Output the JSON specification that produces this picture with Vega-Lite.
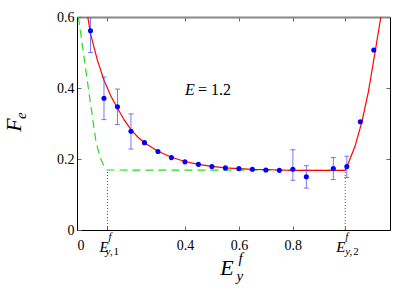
{
  "$schema": "https://vega.github.io/schema/vega-lite/v6.json",
  "width": 313,
  "height": 213,
  "autosize": "none",
  "padding": {"left": 77, "top": 17, "right": 25, "bottom": 61},
  "config": {
    "view": {"stroke": null},
    "font": "Liberation Serif",
    "axis": {"grid": false, "labelFont": "Liberation Serif", "labelFontSize": 14, "labelColor": "#000", "tickColor": "#666", "tickSize": -4, "domainColor": "#000", "title": null}
  },
  "datasets": {
    "pts": [
      {"x": 0.05, "y": 0.561}, {"x": 0.1, "y": 0.371}, {"x": 0.15, "y": 0.347}, {"x": 0.2, "y": 0.278},
      {"x": 0.25, "y": 0.246}, {"x": 0.3, "y": 0.221}, {"x": 0.35, "y": 0.204}, {"x": 0.4, "y": 0.192},
      {"x": 0.45, "y": 0.185}, {"x": 0.5, "y": 0.179}, {"x": 0.55, "y": 0.175}, {"x": 0.6, "y": 0.173},
      {"x": 0.65, "y": 0.171}, {"x": 0.7, "y": 0.169}, {"x": 0.75, "y": 0.168}, {"x": 0.8, "y": 0.171},
      {"x": 0.85, "y": 0.15}, {"x": 0.95, "y": 0.173}, {"x": 1.0, "y": 0.179}, {"x": 1.05, "y": 0.305},
      {"x": 1.1, "y": 0.507}
    ],
    "err": [
      {"x": 0.05, "lo": 0.5, "hi": 0.62}, {"x": 0.1, "lo": 0.311, "hi": 0.431},
      {"x": 0.15, "lo": 0.297, "hi": 0.397}, {"x": 0.2, "lo": 0.228, "hi": 0.327},
      {"x": 0.8, "lo": 0.14, "hi": 0.226}, {"x": 0.85, "lo": 0.118, "hi": 0.181},
      {"x": 0.95, "lo": 0.142, "hi": 0.204}, {"x": 1.0, "lo": 0.148, "hi": 0.208}
    ],
    "fit": [
      {"x": 0.04, "y": 0.6}, {"x": 0.05, "y": 0.553}, {"x": 0.075, "y": 0.48}, {"x": 0.1, "y": 0.422},
      {"x": 0.125, "y": 0.378}, {"x": 0.15, "y": 0.343}, {"x": 0.175, "y": 0.31}, {"x": 0.2, "y": 0.283},
      {"x": 0.225, "y": 0.262}, {"x": 0.25, "y": 0.246}, {"x": 0.3, "y": 0.222}, {"x": 0.35, "y": 0.205},
      {"x": 0.4, "y": 0.193}, {"x": 0.45, "y": 0.185}, {"x": 0.5, "y": 0.179}, {"x": 0.55, "y": 0.175},
      {"x": 0.6, "y": 0.173}, {"x": 0.65, "y": 0.171}, {"x": 0.7, "y": 0.17}, {"x": 0.75, "y": 0.169},
      {"x": 0.8, "y": 0.168}, {"x": 0.9, "y": 0.168}, {"x": 0.994, "y": 0.168}, {"x": 1.004, "y": 0.185},
      {"x": 1.03, "y": 0.235}, {"x": 1.056, "y": 0.305}, {"x": 1.08, "y": 0.39}, {"x": 1.106, "y": 0.507},
      {"x": 1.126, "y": 0.6}
    ],
    "bound": [
      {"x": 0.005, "y": 0.6}, {"x": 0.02, "y": 0.52}, {"x": 0.042, "y": 0.4}, {"x": 0.07, "y": 0.25},
      {"x": 0.085, "y": 0.206}, {"x": 0.1, "y": 0.18}, {"x": 0.112, "y": 0.169}, {"x": 0.994, "y": 0.168}
    ],
    "marks": [
      {"x": 0.113, "y": 0, "y2": 0.169}, {"x": 0.994, "y": 0, "y2": 0.168}
    ]
  },
  "layer": [
    {
      "data": {"name": "marks"},
      "mark": {"type": "rule", "color": "#555", "strokeDash": [1, 2], "strokeWidth": 1},
      "encoding": {
        "x": {"field": "x", "type": "quantitative", "scale": {"domain": [0, 1.16], "nice": false, "zero": false},
              "axis": {"orient": "bottom", "values": [0, 0.113, 0.4, 0.6, 0.8, 0.994], "labelPadding": 12,
                       "labelExpr": "(datum.value > 0.1 && datum.value < 0.12) || datum.value > 0.99 ? '' : (datum.value == 0 ? '0' : format(datum.value, '.1f'))"}},
        "y": {"field": "y", "type": "quantitative", "scale": {"domain": [0, 0.6], "nice": false, "zero": false},
              "axis": {"orient": "left", "values": [0, 0.2, 0.4, 0.6], "labelPadding": 7,
                       "labelExpr": "datum.value == 0 ? '0' : format(datum.value, '.1f')"}},
        "y2": {"field": "y2"}
      }
    },
    {
      "data": {"name": "marks"},
      "mark": {"type": "rule", "opacity": 0},
      "encoding": {
        "x": {"field": "x", "type": "quantitative", "scale": {"domain": [0, 1.16], "nice": false, "zero": false},
              "axis": {"orient": "top", "values": [0.113, 0.4, 0.6, 0.8, 0.994], "labels": false, "domainColor": "#888", "domainWidth": 2}},
        "y": {"field": "y", "type": "quantitative", "scale": {"domain": [0, 0.6], "nice": false, "zero": false},
              "axis": {"orient": "right", "values": [0.2, 0.4], "labels": false}}
      }
    },
    {
      "data": {"name": "bound"},
      "mark": {"type": "line", "color": "#22dd22", "strokeDash": [8, 5], "strokeWidth": 1.2, "clip": true},
      "encoding": {
        "x": {"field": "x", "type": "quantitative", "scale": {"domain": [0, 1.16], "nice": false, "zero": false}, "axis": null},
        "y": {"field": "y", "type": "quantitative", "scale": {"domain": [0, 0.6], "nice": false, "zero": false}, "axis": null}
      }
    },
    {
      "data": {"name": "fit"},
      "mark": {"type": "line", "color": "#ff0000", "strokeWidth": 1.2, "clip": true},
      "encoding": {
        "x": {"field": "x", "type": "quantitative", "scale": {"domain": [0, 1.16], "nice": false, "zero": false}, "axis": null},
        "y": {"field": "y", "type": "quantitative", "scale": {"domain": [0, 0.6], "nice": false, "zero": false}, "axis": null}
      }
    },
    {
      "data": {"name": "err"},
      "mark": {"type": "errorbar", "ticks": {"size": 5}, "color": "#4a4aff", "opacity": 0.75, "clip": true},
      "encoding": {
        "x": {"field": "x", "type": "quantitative", "scale": {"domain": [0, 1.16], "nice": false, "zero": false}, "axis": null},
        "y": {"field": "lo", "type": "quantitative", "scale": {"domain": [0, 0.6], "nice": false, "zero": false}, "axis": null},
        "y2": {"field": "hi"}
      }
    },
    {
      "data": {"name": "pts"},
      "mark": {"type": "circle", "color": "#0000ff", "opacity": 1, "size": 26},
      "encoding": {
        "x": {"field": "x", "type": "quantitative", "scale": {"domain": [0, 1.16], "nice": false, "zero": false}, "axis": null},
        "y": {"field": "y", "type": "quantitative", "scale": {"domain": [0, 0.6], "nice": false, "zero": false}, "axis": null}
      }
    },
    {
      "data": {"values": [{"x": 0.4, "y": 0.395, "t": "E"}]},
      "mark": {"type": "text", "font": "Liberation Serif", "fontStyle": "italic", "fontSize": 16, "align": "left", "baseline": "middle"},
      "encoding": {
        "x": {"field": "x", "type": "quantitative", "scale": {"domain": [0, 1.16], "nice": false, "zero": false}, "axis": null},
        "y": {"field": "y", "type": "quantitative", "scale": {"domain": [0, 0.6], "nice": false, "zero": false}, "axis": null},
        "text": {"field": "t"}
      }
    },
    {
      "data": {"values": [{"x": 0.4, "y": 0.395, "t": "= 1.2"}]},
      "mark": {"type": "text", "font": "Liberation Serif", "fontSize": 16, "align": "left", "baseline": "middle", "dx": 13},
      "encoding": {
        "x": {"field": "x", "type": "quantitative", "scale": {"domain": [0, 1.16], "nice": false, "zero": false}, "axis": null},
        "y": {"field": "y", "type": "quantitative", "scale": {"domain": [0, 0.6], "nice": false, "zero": false}, "axis": null},
        "text": {"field": "t"}
      }
    },
    {
      "data": {"values": [{"x": 0.1, "y": 0, "t": "E"}, {"x": 0.978, "y": 0, "t": "E"}]},
      "mark": {"type": "text", "font": "Liberation Serif", "fontStyle": "italic", "fontSize": 15, "align": "center", "baseline": "middle", "dy": 17},
      "encoding": {
        "x": {"field": "x", "type": "quantitative", "scale": {"domain": [0, 1.16], "nice": false, "zero": false}, "axis": null},
        "y": {"field": "y", "type": "quantitative", "scale": {"domain": [0, 0.6], "nice": false, "zero": false}, "axis": null},
        "text": {"field": "t"}
      }
    },
    {
      "data": {"values": [{"x": 0.122, "y": 0, "t": "f"}, {"x": 1.0, "y": 0, "t": "f"}]},
      "mark": {"type": "text", "font": "Liberation Serif", "fontStyle": "italic", "fontSize": 11, "align": "center", "baseline": "middle", "dy": 7},
      "encoding": {
        "x": {"field": "x", "type": "quantitative", "scale": {"domain": [0, 1.16], "nice": false, "zero": false}, "axis": null},
        "y": {"field": "y", "type": "quantitative", "scale": {"domain": [0, 0.6], "nice": false, "zero": false}, "axis": null},
        "text": {"field": "t"}
      }
    },
    {
      "data": {"values": [{"x": 0.106, "y": 0, "t": "y,"}, {"x": 0.994, "y": 0, "t": "y,"}]},
      "mark": {"type": "text", "font": "Liberation Serif", "fontStyle": "italic", "fontSize": 11, "align": "left", "baseline": "middle", "dy": 22},
      "encoding": {
        "x": {"field": "x", "type": "quantitative", "scale": {"domain": [0, 1.16], "nice": false, "zero": false}, "axis": null},
        "y": {"field": "y", "type": "quantitative", "scale": {"domain": [0, 0.6], "nice": false, "zero": false}, "axis": null},
        "text": {"field": "t"}
      }
    },
    {
      "data": {"values": [{"x": 0.106, "y": 0, "t": "1"}, {"x": 0.994, "y": 0, "t": "2"}]},
      "mark": {"type": "text", "font": "Liberation Serif", "fontSize": 11, "align": "left", "baseline": "middle", "dy": 22, "dx": 8},
      "encoding": {
        "x": {"field": "x", "type": "quantitative", "scale": {"domain": [0, 1.16], "nice": false, "zero": false}, "axis": null},
        "y": {"field": "y", "type": "quantitative", "scale": {"domain": [0, 0.6], "nice": false, "zero": false}, "axis": null},
        "text": {"field": "t"}
      }
    },
    {
      "data": {"values": [{"x": 0.556, "y": 0, "t": "E"}]},
      "mark": {"type": "text", "font": "Liberation Serif", "fontStyle": "italic", "fontSize": 22, "align": "center", "baseline": "middle", "dy": 38},
      "encoding": {
        "x": {"field": "x", "type": "quantitative", "scale": {"domain": [0, 1.16], "nice": false, "zero": false}, "axis": null},
        "y": {"field": "y", "type": "quantitative", "scale": {"domain": [0, 0.6], "nice": false, "zero": false}, "axis": null},
        "text": {"field": "t"}
      }
    },
    {
      "data": {"values": [{"x": 0.606, "y": 0, "t": "f"}]},
      "mark": {"type": "text", "font": "Liberation Serif", "fontStyle": "italic", "fontSize": 15, "align": "center", "baseline": "middle", "dy": 28},
      "encoding": {
        "x": {"field": "x", "type": "quantitative", "scale": {"domain": [0, 1.16], "nice": false, "zero": false}, "axis": null},
        "y": {"field": "y", "type": "quantitative", "scale": {"domain": [0, 0.6], "nice": false, "zero": false}, "axis": null},
        "text": {"field": "t"}
      }
    },
    {
      "data": {"values": [{"x": 0.603, "y": 0, "t": "y"}]},
      "mark": {"type": "text", "font": "Liberation Serif", "fontStyle": "italic", "fontSize": 15, "align": "center", "baseline": "middle", "dy": 46},
      "encoding": {
        "x": {"field": "x", "type": "quantitative", "scale": {"domain": [0, 1.16], "nice": false, "zero": false}, "axis": null},
        "y": {"field": "y", "type": "quantitative", "scale": {"domain": [0, 0.6], "nice": false, "zero": false}, "axis": null},
        "text": {"field": "t"}
      }
    },
    {
      "data": {"values": [{"x": 0, "y": 0.296, "t": "F"}]},
      "mark": {"type": "text", "font": "Liberation Serif", "fontStyle": "italic", "fontSize": 22, "align": "center", "baseline": "middle", "angle": 270, "dy": -63},
      "encoding": {
        "x": {"field": "x", "type": "quantitative", "scale": {"domain": [0, 1.16], "nice": false, "zero": false}, "axis": null},
        "y": {"field": "y", "type": "quantitative", "scale": {"domain": [0, 0.6], "nice": false, "zero": false}, "axis": null},
        "text": {"field": "t"}
      }
    },
    {
      "data": {"values": [{"x": 0, "y": 0.322, "t": "e"}]},
      "mark": {"type": "text", "font": "Liberation Serif", "fontStyle": "italic", "fontSize": 15, "align": "center", "baseline": "middle", "angle": 270, "dy": -56},
      "encoding": {
        "x": {"field": "x", "type": "quantitative", "scale": {"domain": [0, 1.16], "nice": false, "zero": false}, "axis": null},
        "y": {"field": "y", "type": "quantitative", "scale": {"domain": [0, 0.6], "nice": false, "zero": false}, "axis": null},
        "text": {"field": "t"}
      }
    }
  ],
  "resolve": {"axis": {"x": "independent", "y": "independent"}}
}
